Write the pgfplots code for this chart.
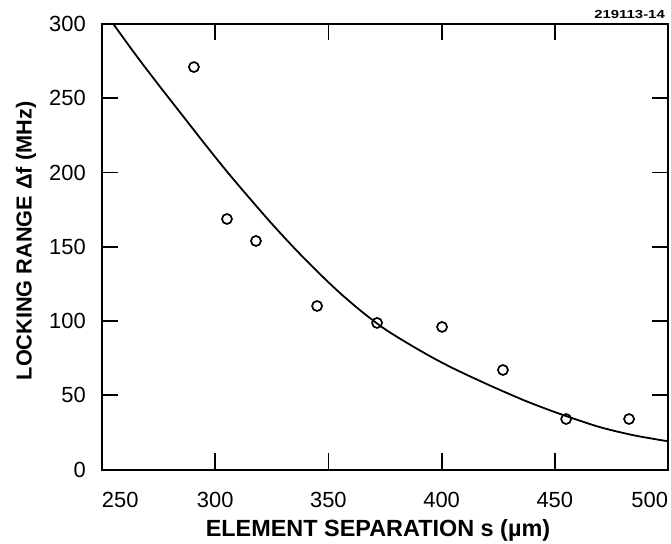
\documentclass[border=0pt]{standalone}
\usepackage{fontspec}
\setmainfont{Liberation Sans}
\usepackage{pgfplots}
\pgfplotsset{compat=1.18}

% measured locking range (circles)
\pgfplotstableread{
s    df
290.6 271
305.2 168.7
318.0 153.9
345.0 110.1
371.5 98.7
400.2 96.0
427.1 67.0
455.0 34.0
482.8 34.0
}\measured

% theory curve
\pgfplotstableread{
s   df
255 300
265 279
275 259
285 239.5
295 220
305 201
315 183
325 165.5
335 149
345 133.5
355 119
365 106
375 94.5
385 85
395 76.2
405 68.2
420 57.5
435 47.5
445 41.5
455 36
470 28.5
485 23
500 19
}\theory

\begin{document}
\begin{tikzpicture}
\useasboundingbox (-102bp,-74.5bp) rectangle (569bp,469.5bp);
\begin{axis}[
  at={(0,0)}, anchor=south west,
  scale only axis, width=566bp, height=445.5bp,
  xmin=250, xmax=500, ymin=0, ymax=300,
  xtick={250,300,...,500}, ytick={0,50,...,300},
  xticklabels={\makebox[0pt][l]{250},300,350,400,450,\makebox[0pt][r]{500}},
  tick align=inside, major tick length=16bp,
  axis line style={line width=2bp},
  major tick style={line width=1.8bp, black},
  /pgf/number format/assume math mode=true,
  tick label style={font=\fontsize{22}{24}\selectfont},
  xticklabel style={anchor=base, inner sep=0pt, yshift=-37.5bp},
  yticklabel style={anchor=east, inner sep=0pt, xshift=-16bp},
  xlabel={ELEMENT SEPARATION s (µm)},
  ylabel={LOCKING RANGE Δf (MHz)},
  every axis x label/.style={at={(axis description cs:0.4876,-0.1515)}, anchor=base,
    font=\fontsize{23.5}{26}\selectfont\bfseries},
  every axis y label/.style={at={(axis description cs:-0.1343,0.513)}, anchor=center, rotate=90,
    font=\fontsize{21.8}{24}\selectfont\bfseries},
  clip mode=individual,
]
\addplot[black, line width=1.8bp, smooth] table[x=s, y=df] {\theory};
\addplot[only marks, mark=o, mark size=5bp, mark options={line width=1.7bp, black}]
  table[x=s, y=df] {\measured};
\node[anchor=base east, inner sep=0pt, font=\fontsize{13}{14}\selectfont\bfseries]
  at (axis description cs:0.9947,1.0128) {\scalebox{1.15}[0.9]{219113-14}};
\end{axis}
\end{tikzpicture}
\end{document}
